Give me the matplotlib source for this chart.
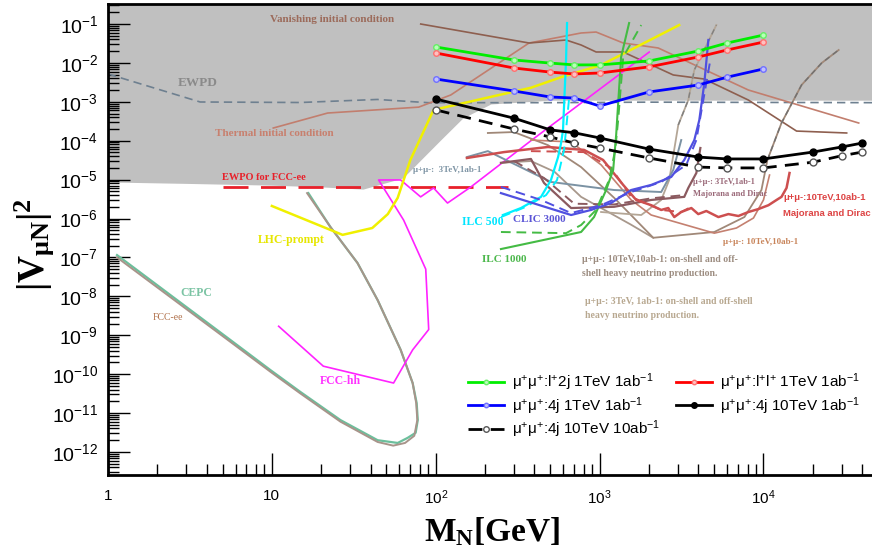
import numpy as np
import matplotlib
matplotlib.use('Agg')
import matplotlib.pyplot as plt
from matplotlib.ticker import LogLocator, FixedLocator, FixedFormatter, NullFormatter

plt.rcParams['font.family'] = ['Liberation Sans', 'DejaVu Sans']
plt.rcParams['mathtext.fontset'] = 'custom'
plt.rcParams['mathtext.rm'] = 'Liberation Sans'
plt.rcParams['mathtext.it'] = 'Liberation Sans:italic'
plt.rcParams['mathtext.bf'] = 'Liberation Serif:bold'

# ---- excluded region (grey) ----
excl_x = [1, 3, 10, 20, 36, 63, 107, 146, 217, 500, 5e4]
excl_lo = [8.7e-6, 8.0e-6, 7.2e-6, 6.5e-6, 5.7e-6, 1.1e-5, 1.04e-4, 3.8e-4, 8.8e-4, 1.1e-3, 1.1e-3]

# ---- EWPD / EWPO ----
ewpd_x = [1, 3.65, 14.9, 44, 90, 500, 2000, 5e4]
ewpd_y = [5.2e-3, 9.9e-4, 9.6e-4, 1.15e-3, 9.5e-4, 9.5e-4, 9.8e-4, 9.5e-4]
ewpo_x = [5.05, 275]
ewpo_y = [6.6e-6, 6.6e-6]

# ---- thermal / vanishing initial condition ----
therm_x = [10.2, 21.9, 78.7, 123.6, 371, 771, 952, 1393, 2279, 8090, 38130]
therm_y = [2.12e-4, 5.15e-4, 7.3e-4, 1.5e-3, 0.0325, 0.0588, 0.0622, 0.0325, 0.0242, 2.01e-3, 2.85e-4]
vanish_x = [81, 371, 624, 771, 952, 1393, 2815, 4357, 8090, 15920, 32200]
vanish_y = [0.1, 0.0325, 0.0388, 0.0289, 0.0191, 0.0191, 4.9e-3, 3.85e-3, 1.11e-3, 1.77e-4, 1.58e-4]

# ---- same-sign muon collider channels ----
mass_pts = [100, 300, 500, 700, 1000, 2000, 4000, 6000, 10000]
l2j_1tev = [0.0257, 0.0119, 0.0099, 0.0089, 0.0089, 0.0112, 0.0202, 0.0325, 0.052]
ll_1tev = [0.018, 0.0074, 0.0058, 0.0052, 0.0055, 0.0079, 0.0142, 0.0215, 0.0344]
fourj_1tev = [0.00386, 0.0019, 0.00133, 0.00125, 0.00078, 0.00179, 0.0027, 0.0043, 0.0070]
mass_pts_10 = [100, 300, 500, 700, 1000, 2000, 4000, 6000, 10000, 20000, 30000, 40000]
fourj_10tev_1ab = [1.18e-3, 3.8e-4, 1.9e-4, 1.6e-4, 1.18e-4, 6.1e-5, 3.8e-5, 3.4e-5, 3.4e-5, 5.1e-5, 6.9e-5, 8.7e-5]
fourj_10tev_10ab = [6.2e-4, 2.0e-4, 1.25e-4, 8.7e-5, 6.5e-5, 3.6e-5, 2.1e-5, 2.0e-5, 2.0e-5, 2.8e-5, 4.1e-5, 5.1e-5]

# ---- other experiments ----
lhc_x = [10.0, 27, 41, 51, 58.6, 70, 97, 381, 582, 1021, 3060]
lhc_y = [2.1e-6, 3.8e-7, 5.7e-7, 1.3e-6, 3.4e-6, 3.2e-5, 6.2e-4, 2.3e-3, 4.3e-3, 8.8e-3, 0.094]

cepc_x = [1.135, 5.57, 9.8, 14.9, 26.2, 44.2, 58.6, 67.4, 75.4, 77.7, 76.5, 72.3, 61.1, 48.1, 44.2, 33.3, 22.8, 16.7]
cepc_y = [1.15e-7, 7.6e-10, 1.27e-10, 3.5e-11, 6.6e-12, 2.0e-12, 1.7e-12, 2.3e-12, 3.1e-12, 6.6e-12,
          1.8e-11, 5.9e-11, 4.2e-10, 3.7e-9, 8e-9, 7.2e-8, 6.0e-7, 4.5e-6]
fccee_x = [1.135, 5.57, 9.8, 14.9, 26.2, 44.2, 55, 65, 74, 77.2, 76, 72.3, 61.1, 48.1, 44.2, 33.3, 22.8, 16.4]
fccee_y = [1.0e-7, 6.8e-10, 1.15e-10, 3.2e-11, 6.0e-12, 1.8e-12, 1.45e-12, 1.7e-12, 2.6e-12, 6.6e-12,
           1.8e-11, 5.9e-11, 4.2e-10, 3.7e-9, 8e-9, 7.2e-8, 6.0e-7, 4.5e-6]

fcchh_x = [11, 20.6, 55.3, 72.3, 90.6, 86.9, 63.7, 44.8, 61.1, 80.9, 97, 118, 164, 381, 2008]
fcchh_y = [1.7e-9, 1.6e-10, 5.9e-11, 4.2e-10, 1.4e-9, 5.0e-8, 9.1e-7, 9.8e-6, 9.8e-6, 3.6e-6, 6.1e-6,
           2.5e-6, 6.5e-6, 1.0e-4, 0.019]

ilc500_x = [633, 624, 598, 582, 558, 505, 439, 331, 287, 257]
ilc500_y = [0.106, 0.0119, 1.87e-4, 8.7e-5, 3.8e-5, 9.8e-6, 3.6e-6, 1.86e-6, 1.47e-6, 1.23e-6]
ilc500d_x = [650, 607, 550, 471, 355, 250]
ilc500d_y = [1.11e-3, 5.8e-5, 9.8e-6, 4.0e-6, 2.0e-6, 1.09e-6]

ilc1000_x = [250, 771, 925, 1096, 1210, 1262, 1353, 1514]
ilc1000_y = [1.64e-7, 4.5e-7, 1.09e-6, 5.4e-6, 1.77e-5, 1.4e-4, 0.0142, 0.106]
ilc1000d_x = [250, 624, 771, 952, 1143, 1245, 1298, 1393, 1795]
ilc1000d_y = [4.5e-7, 4.2e-7, 6.8e-7, 1.66e-6, 9.8e-6, 5.8e-5, 3.4e-4, 0.0142, 0.094]

clic_x = [250, 670, 887, 1175, 1559, 2065, 2737, 3286, 3785, 4060, 4357, 4610]
clic_y = [4.5e-6, 1.23e-6, 1.66e-6, 2.5e-6, 5.4e-6, 7.3e-6, 1.17e-5, 3.2e-5, 1.04e-4, 3.4e-4, 3.04e-3, 0.0388]
clicd_x = [250, 439, 670, 1021, 1559, 2377, 3381, 3894, 4295, 4715]
clicd_y = [6.5e-6, 3.0e-6, 1.38e-6, 2.2e-6, 4.8e-6, 8.7e-6, 2.4e-5, 1.04e-4, 1.11e-3, 0.0105]

# ---- opposite-sign muon collider curves ----
mm3_x = [155, 208, 505, 1227, 2377, 2815, 3149]
mm3_y = [3.8e-5, 5.4e-5, 8.7e-6, 5.4e-6, 4.8e-6, 1.77e-5, 1.04e-4]

md10_x = [155, 261, 484, 804, 1050, 1393, 1672, 2065, 2377, 2624, 2856, 3150, 3630, 4000, 4480, 5308,
          6110, 7030, 8090, 9310, 10730, 12020, 12880, 13830, 14420]
md10_y = [3.6e-5, 5.1e-5, 6.9e-5, 5.8e-5, 3.2e-5, 7.3e-6, 3.0e-6, 2.2e-6, 1.66e-6, 1.86e-6, 1.09e-6, 1.47e-6,
          1.86e-6, 1.3e-6, 1.56e-6, 1.09e-6, 1.3e-6, 1.16e-6, 1.47e-6, 1.75e-6, 2.2e-6, 3.0e-6, 3.6e-6,
          6.1e-6, 1.48e-5]
md10d_x = [381, 800, 1175, 1559, 2377, 3150, 3630]
md10d_y = [5.4e-5, 5.1e-5, 2.0e-5, 3.6e-6, 1.66e-6, 1.47e-6, 2.0e-6]

md3_x = [250, 381, 458, 670, 1227, 2065, 3286, 3476, 3894, 4120]
md3_y = [2.7e-5, 3.4e-5, 8.2e-6, 1.86e-6, 2.0e-6, 3.0e-6, 3.6e-6, 6.1e-6, 1.48e-5, 6.5e-5]
md3d_x = [300, 458, 700, 1227, 2065, 3286]
md3d_y = [3.0e-5, 1.1e-5, 2.4e-6, 2.3e-6, 3.3e-6, 4.0e-6]

on10_x = [208, 300, 484, 771, 1227, 2125, 5012, 7650, 9720, 10570, 12880, 17070, 22630, 28770]
on10_y = [1.58e-4, 1.67e-4, 7.7e-5, 2.1e-5, 3.4e-6, 3.2e-7, 4.5e-7, 1.09e-6, 5.4e-6, 3.2e-5, 2.85e-4,
          2.7e-3, 9.9e-3, 0.0215]
on10b_x = [250, 381, 530, 771, 1550, 2125]
on10b_y = [2.7e-5, 3.0e-5, 1.6e-5, 3.6e-6, 7.0e-7, 3.2e-7]
on3_x = [1021, 1795, 2377, 2660, 3020, 3476, 3785, 5158]
on3_y = [1.47e-6, 1.23e-6, 3.0e-6, 9.8e-6, 2.53e-4, 1.11e-3, 6.6e-3, 0.094]

rosy_x = [381, 670, 1021, 1559, 2065, 5012, 6840, 8690, 10000, 10890]
rosy_y = [1.04e-4, 9.3e-5, 2.4e-5, 3.0e-6, 1.23e-6, 4.2e-7, 5.7e-7, 1.03e-6, 3.0e-6, 1.31e-5]

W, H = 872, 554
fig = plt.figure(figsize=(W / 100, H / 100), dpi=100)
ax = fig.add_axes([108 / W, 1 - 475 / H, 770 / W, 471 / H])
ax.set_xscale('log')
ax.set_yscale('log')
ax.set_xlim(1, 5e4)
ax.set_ylim(2.55e-13, 0.327)

ax.fill_between(excl_x, excl_lo, 1, color='#C0C0C0', lw=0, zorder=0)
ax.plot(ewpd_x, ewpd_y, color='#6E8090', lw=1.2, dashes=(5, 3), zorder=2)
ax.plot(ewpo_x, ewpo_y, color='#E8202A', lw=2, dashes=(9, 4.5), zorder=2)

ax.plot(therm_x, therm_y, color='#C27E6E', lw=1.2, zorder=2)
ax.plot(vanish_x, vanish_y, color='#8E5F4F', lw=1.2, zorder=2)

ax.plot(cepc_x, cepc_y, color='#6CBF9C', lw=1.6, zorder=3)
ax.plot(fccee_x, fccee_y, color='#A8948A', lw=1.4, zorder=3)
ax.plot(fcchh_x, fcchh_y, color='#FF22FF', lw=1.2, zorder=3)
ax.plot(lhc_x, lhc_y, color='#F0F000', lw=1.8, zorder=3)

ax.plot(on10b_x, on10b_y, color='#A8988C', lw=1.3, zorder=3)
ax.plot(on10_x, on10_y, color='#A08878', lw=1.3, zorder=3)
ax.plot(on10_x[-5:], on10_y[-5:], color='#707070', lw=1.0, dashes=(4, 3), zorder=3)
ax.plot(on3_x, on3_y, color='#B4A696', lw=1.3, zorder=3)
ax.plot(on3_x[-4:], on3_y[-4:], color='#808080', lw=1.0, dashes=(4, 3), zorder=3)
ax.plot(rosy_x, rosy_y, color='#C48070', lw=1.2, zorder=3)
ax.plot(mm3_x, mm3_y, color='#7B92A3', lw=1.4, zorder=3)
ax.plot(md3_x, md3_y, color='#8B5A5F', lw=1.6, zorder=3)
ax.plot(md3d_x, md3d_y, color='#8B5A5F', lw=1.4, dashes=(5, 3), zorder=3)
ax.plot(md10_x, md10_y, color='#CD4F4F', lw=1.8, zorder=3)
ax.plot(md10d_x, md10d_y, color='#CD4F4F', lw=1.4, dashes=(5, 3), zorder=3)

ax.plot(ilc500_x, ilc500_y, color='#00F0FF', lw=1.6, zorder=4)
ax.plot(ilc500d_x, ilc500d_y, color='#00F0FF', lw=1.4, dashes=(5, 3), zorder=4)
ax.plot(ilc1000_x, ilc1000_y, color='#44BB44', lw=1.5, zorder=4)
ax.plot(ilc1000d_x, ilc1000d_y, color='#44BB44', lw=1.4, dashes=(5, 3), zorder=4)
ax.plot(clic_x, clic_y, color='#5050E0', lw=1.6, zorder=4)
ax.plot(clicd_x, clicd_y, color='#5050E0', lw=1.4, dashes=(5, 3), zorder=4)

h_l2j, = ax.plot(mass_pts, l2j_1tev, color='#00EE00', lw=2, marker='o', ms=4, mfc='#B8FFB8', mec='#66EE66', zorder=5)
h_ll, = ax.plot(mass_pts, ll_1tev, color='#FF0000', lw=2, marker='o', ms=4, mfc='#FFC0C0', mec='#FF7070', zorder=5)
h_4j, = ax.plot(mass_pts, fourj_1tev, color='#0000FF', lw=2, marker='o', ms=4, mfc='#C0C0FF', mec='#7070FF', zorder=5)
h_4j10, = ax.plot(mass_pts_10, fourj_10tev_1ab, color='black', lw=2, marker='o', ms=5, mfc='black', zorder=5)
h_4j10d, = ax.plot(mass_pts_10, fourj_10tev_10ab, color='black', lw=2, dashes=(5, 3), marker='o', ms=5,
                   mfc='white', mec='#555555', zorder=5)

# axes styling
for s in ax.spines.values():
    s.set_linewidth(2)
ax.tick_params(which='both', direction='in', top=False, right=False, width=1)
ax.tick_params(which='major', length=16)
ax.tick_params(which='minor', length=8)
ax.tick_params(axis='y', labelsize=14, pad=7)
ax.tick_params(axis='x', labelsize=11, pad=10)
ax.xaxis.set_major_locator(FixedLocator([1, 10, 100, 1000, 10000]))
ax.xaxis.set_major_formatter(FixedFormatter(['1', '10', r'$10^{2}$', r'$10^{3}$', r'$10^{4}$']))
ax.xaxis.set_minor_locator(LogLocator(base=10, subs=np.arange(2, 10), numticks=20))
ax.xaxis.set_minor_formatter(NullFormatter())
ydec = list(range(-12, 0))
ax.yaxis.set_major_locator(FixedLocator([10.0 ** k for k in ydec]))
ax.yaxis.set_major_formatter(FixedFormatter([r'$10^{%d}$' % k for k in ydec]))
ax.yaxis.set_minor_locator(LogLocator(base=10, subs=np.arange(2, 10), numticks=30))
ax.yaxis.set_minor_formatter(NullFormatter())

fig.text(492 / W, 1 - 532 / H, r'$\mathbf{M_{N}[GeV]}$', fontsize=24, ha='center', va='center')
fig.text(34 / W, 1 - 245 / H, r'$\mathbf{|V_{\mu N}|^{2}}$', fontsize=27, ha='center', va='center', rotation=90)


def label(px, py, s, color, size=8, family='Liberation Serif', weight='bold'):
    fig.text(px / W, 1 - py / H, s, color=color, fontsize=size, family=family, weight=weight,
             ha='left', va='center')


label(270, 20, 'Vanishing initial condition', '#9C6B5B', 8)
label(215, 134, 'Thermal initial condition', '#C8806E', 8)
label(178, 83, 'EWPD', '#8A8A8A', 9.5)
label(222, 177, 'EWPO for FCC-ee', '#E8202A', 7.5)
label(258, 240, 'LHC-prompt', '#E6E600', 8.5)
label(180, 293, 'CEPC', '#7CC4A4', 8.5)
label(153, 318, 'FCC-ee', '#B0704A', 7, weight='normal')
label(320, 381, 'FCC-hh', '#FF33FF', 8.5)
label(462, 222, 'ILC 500', '#00E5FF', 8.5)
label(513, 219, 'CLIC 3000', '#5B55D6', 8)
label(482, 260, 'ILC 1000', '#4DB84D', 8)
label(413, 170, 'μ+μ-:  3TeV,1ab-1', '#7F95A5', 6.5)
label(582, 260, 'μ+μ-: 10TeV,10ab-1: on-shell and off-', '#9C8C80', 7)
label(582, 273, 'shell heavy neutrino production.', '#9C8C80', 7)
label(585, 301, 'μ+μ-: 3TeV, 1ab-1: on-shell and off-shell', '#B8A890', 7)
label(585, 315, 'heavy neutrino production.', '#B8A890', 7)
label(693, 182, 'μ+μ-: 3TeV,1ab-1', '#9A6878', 6)
label(693, 194, 'Majorana and Dirac', '#9A6878', 6)
label(723, 242, 'μ+μ-: 10TeV,10ab-1', '#C8845A', 6.5)
label(783, 198, 'μ+μ-:10TeV,10ab-1', '#DD4444', 6.8, family='Liberation Sans')
label(783, 214, 'Majorana and Dirac', '#DD4444', 6.8, family='Liberation Sans')

handles = [h_l2j, h_4j, h_4j10d, h_ll, h_4j10]
labels = ['μ$^{+}$μ$^{+}$:l$^{+}$2j 1TeV 1ab$^{-1}$',
          'μ$^{+}$μ$^{+}$:4j 1TeV 1ab$^{-1}$',
          'μ$^{+}$μ$^{+}$:4j 10TeV 10ab$^{-1}$',
          'μ$^{+}$μ$^{+}$:l$^{+}$l$^{+}$ 1TeV 1ab$^{-1}$',
          'μ$^{+}$μ$^{+}$:4j 10TeV 1ab$^{-1}$']
fig.legend(handles, labels, loc='upper left', bbox_to_anchor=(454 / W, 1 - 358 / H), ncol=2,
           frameon=False, fontsize=11, handlelength=2.4, columnspacing=1.0, labelspacing=0.12,
           handletextpad=0.5, markerscale=0.8)

fig.savefig('out.png', dpi=100)
